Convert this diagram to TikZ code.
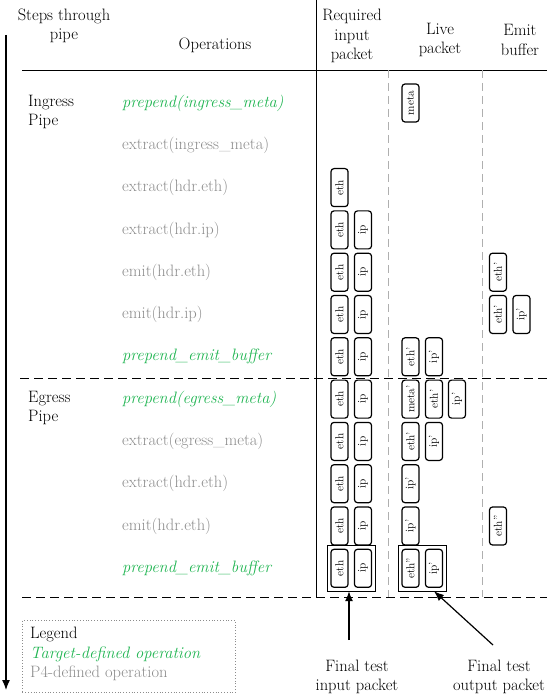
\documentclass[tikz,border=0pt]{standalone}
\usepackage{fontspec}
\usetikzlibrary{fit,arrows.meta}
\definecolor{tgtgreen}{RGB}{30,180,80}
\definecolor{pfgray}{RGB}{140,140,140}
\tikzset{
  txt/.style={font=\fontsize{16.5}{19.5}\selectfont, inner sep=0pt},
  tgtop/.style={txt, text=tgtgreen, font=\fontsize{16.5}{19.5}\selectfont\itshape},
  pfop/.style={txt, text=pfgray},
  hdr/.style={draw, rounded corners=3pt, line width=1.2pt, rotate=90,
    minimum width=38pt, minimum height=17pt, inner sep=1pt,
    font=\fontsize{11.5}{12}\selectfont},
  grp/.style={draw, line width=0.6pt, inner sep=3pt},
  rule/.style={line width=0.9pt},
  coldash/.style={draw=pfgray!70, line width=0.9pt, dash pattern=on 8pt off 5pt},
  rowdash/.style={line width=0.9pt, dash pattern=on 9pt off 5pt}
}
\begin{document}
\begin{tikzpicture}[x=1pt, y=-1pt, >={Latex[length=10pt,width=8pt]}]
  \useasboundingbox (0,0) rectangle (547,700);

  % headers
  \node [txt, align=center] (hsteps) at (64,26) {Steps through\\pipe};
  \node [txt] (hops) at (215,45) {Operations};
  \node [txt, align=center] (hreq) at (352,36) {Required\\input\\packet};
  \node [txt, align=center] (hlive) at (440,40) {Live\\packet};
  \node [txt, align=center] (hemit) at (520,40) {Emit\\buffer};

  % grid lines
  \draw [rule] (22,70) -- (547,70);
  \draw [rule] (316,0) -- (316,597);
  \draw [coldash] (388.5,70) -- (388.5,597);
  \draw [coldash] (482,70) -- (482,597);
  \draw [rowdash] (20,378) -- (547,378);
  \draw [rowdash] (22,597) -- (547,597);

  % time arrow
  \coordinate (ttop) at (6,35);
  \coordinate (tbot) at (6,690);
  \draw [->, line width=1.2pt] (ttop) -- (tbot);

  % pipe names
  \node [txt, align=left, anchor=north west] (ingress) at (28,95) {Ingress\\Pipe};
  \node [txt, align=left, anchor=north west] (egress) at (28,391) {Egress\\Pipe};

  % operations
  \foreach \i/\s/\t in {0/tgtop/prepend(ingress\_meta),
                        1/pfop/extract(ingress\_meta),
                        2/pfop/extract(hdr.eth),
                        3/pfop/extract(hdr.ip),
                        4/pfop/emit(hdr.eth),
                        5/pfop/emit(hdr.ip),
                        6/tgtop/prepend\_emit\_buffer,
                        7/tgtop/prepend(egress\_meta),
                        8/pfop/extract(egress\_meta),
                        9/pfop/extract(hdr.eth),
                        10/pfop/emit(hdr.eth),
                        11/tgtop/prepend\_emit\_buffer}
    \node [\s, anchor=west] (op\i) at (122,103+42.3*\i) {\t};

  % headers in each column
  \foreach \i/\c/\x/\t in {0/L1/410.5/meta,
      2/A/339.5/eth,
      3/A/339.5/eth, 3/B/363/ip,
      4/A/339.5/eth, 4/B/363/ip, 4/E1/498/eth',
      5/A/339.5/eth, 5/B/363/ip, 5/E1/498/eth', 5/E2/521.5/ip',
      6/A/339.5/eth, 6/B/363/ip, 6/L1/410.5/eth', 6/L2/434/ip',
      7/A/339.5/eth, 7/B/363/ip, 7/L1/410.5/meta', 7/L2/434/eth', 7/L3/457/ip',
      8/A/339.5/eth, 8/B/363/ip, 8/L1/410.5/eth', 8/L2/434/ip',
      9/A/339.5/eth, 9/B/363/ip, 9/L1/410.5/ip',
      10/A/339.5/eth, 10/B/363/ip, 10/L1/410.5/ip', 10/E1/498/eth'',
      11/A/339.5/eth, 11/B/363/ip, 11/L1/410.5/eth'', 11/L2/434/ip'}
    \node [hdr] (b\i\c) at (\x,103+42.3*\i) {\t};

  % final packets
  \node [grp, fit=(b11A)(b11B)] (inpkt) {};
  \node [grp, fit=(b11L1)(b11L2)] (outpkt) {};

  \node [txt, align=center] (infinal) at (357,677) {Final test\\input packet};
  \node [txt, align=center] (outfinal) at (499,677) {Final test\\output packet};
  \coordinate (intail) at (349,640);
  \coordinate (outtail) at (493,645);
  \draw [->, line width=1.2pt] (intail) -- (intail |- inpkt.south);
  \draw [->, line width=1.2pt] (outtail) -- (outpkt.south -| b11L2);

  % legend
  \node [draw=pfgray, dotted, line width=0.8pt, minimum width=213pt, minimum height=72pt,
         anchor=north west] (legend) at (22,620) {};
  \node [txt, align=left, anchor=north west] (legtext) at (30,627)
    {Legend\\
     {\color{tgtgreen}\itshape Target-defined operation}\\
     {\color{pfgray}P4-defined operation}};
\end{tikzpicture}
\end{document}
